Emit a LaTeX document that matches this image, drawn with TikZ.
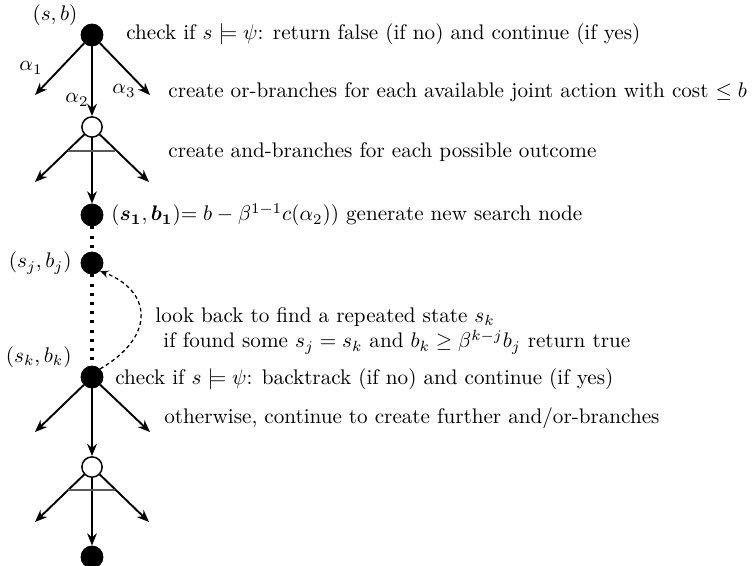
\documentclass[tikz,border=0pt]{standalone}
\usepackage{amsmath,amssymb,bm}
\usetikzlibrary{arrows.meta}
\begin{document}
\begin{tikzpicture}[x=0.473pt,y=-0.473pt,
  full/.style={circle,fill=black,draw=black,inner sep=0pt,minimum size=10.4pt},
  hollow/.style={circle,fill=white,draw=black,line width=0.7pt,inner sep=0pt,minimum size=9.6pt},
  branch/.style={line width=0.9pt,-{Stealth[length=5.8pt,width=4.6pt]}},
  andbar/.style={line width=0.9pt,draw=black!65},
  chain/.style={line width=1.45pt,dash pattern=on 1.45pt off 2.9pt},
  back/.style={line width=0.6pt,dash pattern=on 1.8pt off 1.4pt,-{Stealth[length=4pt,width=3.4pt]}},
  lbl/.style={inner sep=0pt},
  txt/.style={anchor=west,inner sep=0pt}]
\useasboundingbox (0,0) rectangle (754,565);
% nodes
\node[full] (n0) at (92,35) {};
\node[hollow] (o1) at (92,127) {};
\node[full] (n1) at (92,215) {};
\node[full] (nj) at (92,263) {};
\node[full] (nk) at (92,377) {};
\node[hollow] (o2) at (92,467) {};
\node[full] (n2) at (92,557) {};
% free ends
\coordinate (a1) at (35,95);
\coordinate (a3) at (150,95);
\coordinate (b1) at (35,182);
\coordinate (b3) at (149,182);
\coordinate (c1) at (35,432);
\coordinate (c3) at (150,432);
\coordinate (d1) at (35,522);
\coordinate (d3) at (149,522);
% upper or-branches
\draw[branch] (n0) -- (a1);
\draw[branch] (n0) -- (a3);
\draw[branch] (n0) -- (o1);
% upper and-branches
\draw[branch] (o1) -- (b1);
\draw[branch] (o1) -- (b3);
\draw[branch] (o1) -- (n1);
\draw[andbar] (68,151) -- (115,151);
% chain
\draw[chain] (n1) -- (nj);
\draw[chain] (nj) -- (nk);
\draw[back] (nk.north east) .. controls (158,335) and (150,290) .. (nj.south east);
% lower or-branches
\draw[branch] (nk) -- (c1);
\draw[branch] (nk) -- (c3);
\draw[branch] (nk) -- (o2);
% lower and-branches
\draw[branch] (o2) -- (d1);
\draw[branch] (o2) -- (d3);
\draw[branch] (o2) -- (n2);
\draw[andbar] (68,490) -- (115,490);
% labels
\node[lbl] (lsb) at (55,15) {$(s,b)$};
\node[lbl] (la1) at (31,68) {$\alpha_1$};
\node[lbl] (la2) at (77,100) {$\alpha_2$};
\node[lbl] (la3) at (124,91) {$\alpha_3$};
\node[lbl,anchor=east] (lsj) at (72,263) {$(s_j,b_j)$};
\node[lbl,anchor=east] (lsk) at (72,357) {$(s_k,b_k)$};
% texts
\node[txt] (t1) at (126,34) {check if $s\models\psi$: return false (if no) and continue (if yes)};
\node[txt] (t2) at (168,92) {create or-branches for each available joint action with cost $\leq b$};
\node[txt] (t3) at (168,152) {create and-branches for each possible outcome};
\node[txt] (t4) at (111,215) {$(\bm{s_1},\bm{b_1})$$= b-\beta^{1-1}c(\alpha_2))$ generate new search node};
\node[txt] (t5) at (155,317) {look back to find a repeated state $s_k$};
\node[txt] (t6) at (163,342) {if found some $s_j=s_k$ and $b_k\geq\beta^{k-j}b_j$ return true};
\node[txt] (t7) at (115,379) {check if $s\models\psi$: backtrack (if no) and continue (if yes)};
\node[txt] (t8) at (164,418) {otherwise, continue to create further and/or-branches};
\end{tikzpicture}
\end{document}
